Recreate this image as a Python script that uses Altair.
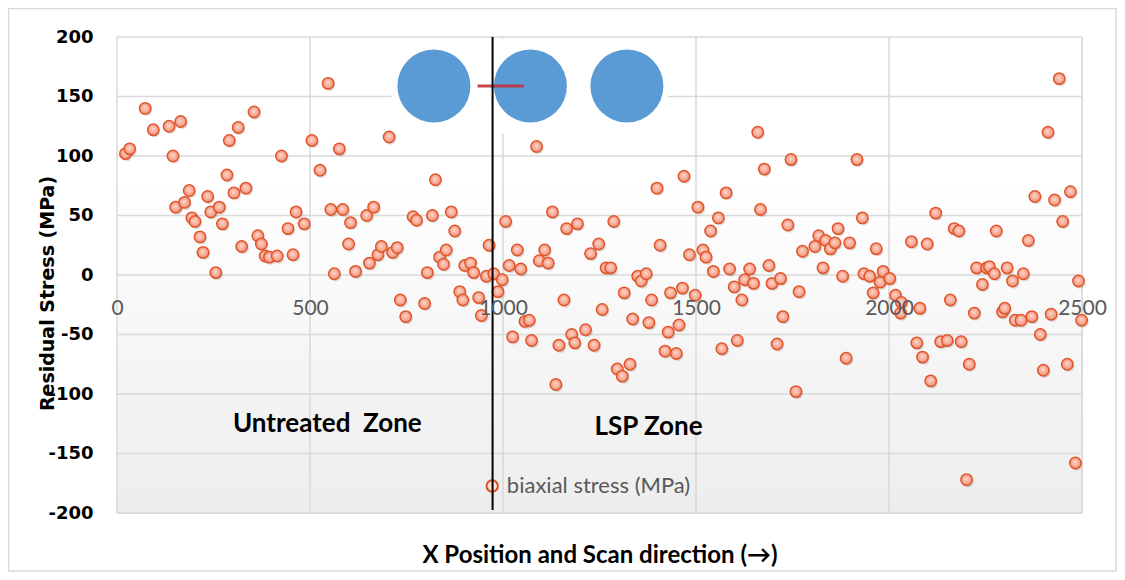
import altair as alt
import pandas as pd

# ---------------- data ----------------
x_pos = [22, 33, 73, 94, 135, 165, 145, 152, 175, 187, 194, 202, 215, 223, 235, 243, 256, 265, 273, 285,
         291, 303, 314, 323, 334, 355, 365, 374, 384, 395, 415, 426, 443, 456, 464, 485, 505, 526, 547, 554,
         563, 576, 585, 600, 605, 618,
         647, 654, 665, 676, 685, 705, 714, 726, 734, 748, 767, 776, 797, 804, 817, 825, 836, 846, 853, 866,
         875, 888, 896, 901, 916, 924, 937, 944, 957, 964,
         976, 987, 998, 1007, 1016, 1025, 1037, 1046, 1057, 1068, 1074, 1087, 1094, 1108, 1117, 1128, 1137,
         1145, 1158, 1165, 1178, 1186, 1193, 1214, 1227, 1236, 1248, 1257, 1267, 1279, 1287, 1296, 1309, 1314,
         1329, 1336, 1349, 1358, 1371, 1378, 1385, 1399, 1407, 1420, 1428, 1434, 1449, 1456, 1465, 1469,
         1483, 1498, 1505, 1518, 1526, 1538, 1545, 1558, 1567, 1578, 1587, 1599, 1607, 1619, 1626, 1639, 1649,
         1660, 1667, 1677, 1689, 1697, 1710, 1719, 1725, 1738, 1746, 1759, 1767, 1776, 1808, 1818, 1829, 1836,
         1848, 1860, 1868, 1880, 1889, 1898, 1917, 1931, 1935, 1950, 1959, 1967, 1977, 1985,
         2002, 2017, 2030, 2032, 2058, 2072, 2080, 2087, 2099, 2108, 2121, 2134, 2151, 2159, 2169, 2181, 2187,
         2201, 2208, 2221, 2227, 2242, 2253, 2260, 2273, 2278, 2294, 2300, 2306, 2320, 2327, 2342, 2348, 2361,
         2370, 2378, 2392, 2400, 2412, 2420, 2429, 2441, 2450, 2462, 2470, 2483, 2491, 2499]
stress = [102, 106, 140, 122, 125, 129, 100, 57, 61, 71, 48, 45, 32, 19, 66, 53, 2, 57, 43, 84,
          113, 69, 124, 24, 73, 137, 33, 26, 16, 15, 16, 100, 39, 17, 53, 43, 113, 88, 161, 55,
          1, 106, 55, 26, 44, 3,
          50, 10, 57, 17, 24, 116, 19, 23, -21, -35, 49, 46, -24, 2, 50, 80, 15, 9, 21, 53,
          37, -14, -21, 8, 10, 2, -19, -34, -1, 25,
          1, -14, -4, 45, 8, -52, 21, 5, -39, -38, -55, 108, 12, 21, 10, 53, -92,
          -59, -21, 39, -50, -57, 43, -46, 18, -59, 26, -29, 6, 6, 45, -79, -85, -15,
          -75, -37, -1, -5, 1, -40, -21, 73, 25, -64, -48, -15, -66, -42, -11, 83,
          17, -17, 57, 21, 15, 37, 3, 48, -62, 69, 5, -10, -55, -21, -4, 5, -7,
          120, 55, 89, 8, -7, -58, -3, -35, 42, 97, -98, -14, 20, 24, 33, 6, 29,
          22, 27, 39, -1, -70, 27, 97, 48, 1, -1, -15, 22, -6, 3,
          -3, -17, -32, -23, 28, -57, -28, -69, 26, -89, 52, -56, -55, -21, 39, 37, -56,
          -172, -75, -32, 6, -8, 6, 7, 1, 37, -31, -28, 6, -5, -38, -38, 1, 29,
          -35, 66, -50, -80, 120, -33, 63, 165, 45, -75, 70, -158, -5, -38]
series_name = "biaxial stress (MPa)"

x_ticks = [0, 500, 1000, 1500, 2000, 2500]
y_ticks = [-200, -150, -100, -50, 0, 50, 100, 150, 200]

# inset picture (three spots + scan marker)
spot_x = [821, 1071, 1321]
spot_y = [158.8, 158.8, 158.8]

df = pd.DataFrame({"x": x_pos, "y": stress})
spots = pd.DataFrame({"x": spot_x, "y": spot_y})
vgrid = pd.DataFrame({"g": x_ticks})
hgrid = pd.DataFrame({"g": y_ticks})
one = pd.DataFrame({"k": [0]})

W, H = 965, 476

xs = alt.Scale(domain=[0, 2500], nice=False, zero=False)
ys = alt.Scale(domain=[-200, 200], nice=False, zero=False)

xax = alt.Axis(values=x_ticks, format="d", grid=False, ticks=False, tickSize=0, domain=False,
               zindex=1, offset=-238, labelFont="Lato", labelFontSize=21, labelColor="#595959",
               labelBaseline="alphabetic", labelPadding=39, labelFlush=False,
               title="X Position and Scan direction (\u2192)", titleFont="Lato",
               titleFontSize=24, titleFontWeight="bold", titleColor="#000000",
               titleBaseline="alphabetic", titleY=287)
yax = alt.Axis(values=y_ticks, grid=False, ticks=False, tickSize=0, domain=False, zindex=1,
               labelFont="DejaVu Sans", labelFontSize=18, labelFontWeight="bold",
               labelColor="#000000", labelPadding=24,
               labelExpr="replace(datum.label, '\u2212', '-')",
               title="Residual Stress (MPa)", titleFont="DejaVu Sans", titleFontSize=19,
               titleFontWeight="bold", titleColor="#000000", titleAngle=270,
               titleAlign="center", titleBaseline="middle", titleX=-70, titleY=256)

bg_grad = alt.LinearGradient(gradient="linear", x1=0, y1=0, x2=0, y2=1,
                             stops=[alt.GradientStop(offset=0, color="#ffffff"),
                                    alt.GradientStop(offset=0.3, color="#ffffff"),
                                    alt.GradientStop(offset=1, color="#ededed")])

bg = alt.Chart(one).mark_rect(color=bg_grad).encode(
    x=alt.value(0), x2=alt.value(W), y=alt.value(0), y2=alt.value(H))

vg = alt.Chart(vgrid).mark_rule(color="#d9d9d9", strokeWidth=1.5).encode(
    x=alt.X("g:Q", scale=xs, axis=xax), y=alt.value(0), y2=alt.value(H))
hg = alt.Chart(hgrid).mark_rule(color="#d9d9d9", strokeWidth=1.5).encode(
    y=alt.Y("g:Q", scale=ys, axis=yax), x=alt.value(0), x2=alt.value(W))

box = alt.Chart(one).mark_rect(color="#ffffff").encode(
    x=alt.XDatum(711, scale=xs, axis=xax), x2=alt.X2Datum(1428),
    y=alt.YDatum(198.8, scale=ys, axis=yax), y2=alt.Y2Datum(119))

blue = alt.Chart(spots).mark_circle(size=5330, color="#5b9bd5", opacity=1).encode(
    x=alt.X("x:Q", scale=xs, axis=xax), y=alt.Y("y:Q", scale=ys, axis=yax))

red = alt.Chart(one).mark_rule(color="#c0343a", strokeWidth=3, opacity=0.9).encode(
    x=alt.XDatum(934, scale=xs, axis=xax), x2=alt.X2Datum(1054),
    y=alt.YDatum(158.8, scale=ys, axis=yax))

shadow = alt.Chart(df).mark_circle(size=130, color="#000000", opacity=0.12,
                                   xOffset=1.5, yOffset=2).encode(
    x=alt.X("x:Q", scale=xs, axis=xax), y=alt.Y("y:Q", scale=ys, axis=yax))

pt_grad = alt.RadialGradient(gradient="radial", x1=0.45, y1=0.4, x2=0.5, y2=0.5,
                             r1=0, r2=0.55,
                             stops=[alt.GradientStop(offset=0, color="#fdd8ce"),
                                    alt.GradientStop(offset=1, color="#f38a6e")])

pts = alt.Chart(df).mark_point(filled=True, fill=pt_grad, stroke="#e0552a",
                               strokeWidth=1.5, size=130, opacity=1).encode(
    x=alt.X("x:Q", scale=xs, axis=xax), y=alt.Y("y:Q", scale=ys, axis=yax))

# legend entry (symbol + label) placed inside the plot, as in the reference
leg_sym = alt.Chart(one).mark_point(filled=True, fill="#fde3dc", stroke="#d9531e",
                                    strokeWidth=2, size=130, opacity=1).encode(
    x=alt.XDatum(972, scale=xs, axis=xax), y=alt.YDatum(-177.3, scale=ys, axis=yax))
leg_txt = alt.Chart(one).mark_text(text=series_name, font="Lato", fontSize=22,
                                   color="#595959", align="left", baseline="middle").encode(
    x=alt.XDatum(1010, scale=xs, axis=xax), y=alt.YDatum(-177.3, scale=ys, axis=yax))

t1 = alt.Chart(one).mark_text(text="Untreated\u00a0 Zone", font="Lato", fontSize=26,
                              fontWeight="bold", color="#000000", align="center",
                              baseline="alphabetic").encode(
    x=alt.XDatum(545, scale=xs, axis=xax), y=alt.YDatum(-132, scale=ys, axis=yax))
t2 = alt.Chart(one).mark_text(text="LSP Zone", font="Lato", fontSize=26,
                              fontWeight="bold", color="#000000", align="center",
                              baseline="alphabetic").encode(
    x=alt.XDatum(1377, scale=xs, axis=xax), y=alt.YDatum(-134.5, scale=ys, axis=yax))

vline = alt.Chart(one).mark_rule(color="#000000", strokeWidth=2).encode(
    x=alt.XDatum(973, scale=xs, axis=xax),
    y=alt.YDatum(200, scale=ys, axis=yax), y2=alt.Y2Datum(-197.5))

border = alt.Chart(one).mark_rect(fillOpacity=0, stroke="#d9d9d9", strokeWidth=1.5).encode(
    x=alt.value(-108.5), x2=alt.value(W + 34), y=alt.value(-28.5), y2=alt.value(H + 58))

chart = alt.layer(bg, vg, hg, box, blue, red, shadow, pts, leg_sym, leg_txt, t1, t2,
                  vline, border).properties(
    width=W, height=H,
    autosize=alt.AutoSizeParams(type="none"),
    padding={"left": 109, "top": 29, "right": 35, "bottom": 59},
).configure_view(stroke="#d9d9d9", strokeWidth=2).configure(background="#ffffff")

chart.save("out.html", embed_options={"renderer": "svg", "actions": False})
